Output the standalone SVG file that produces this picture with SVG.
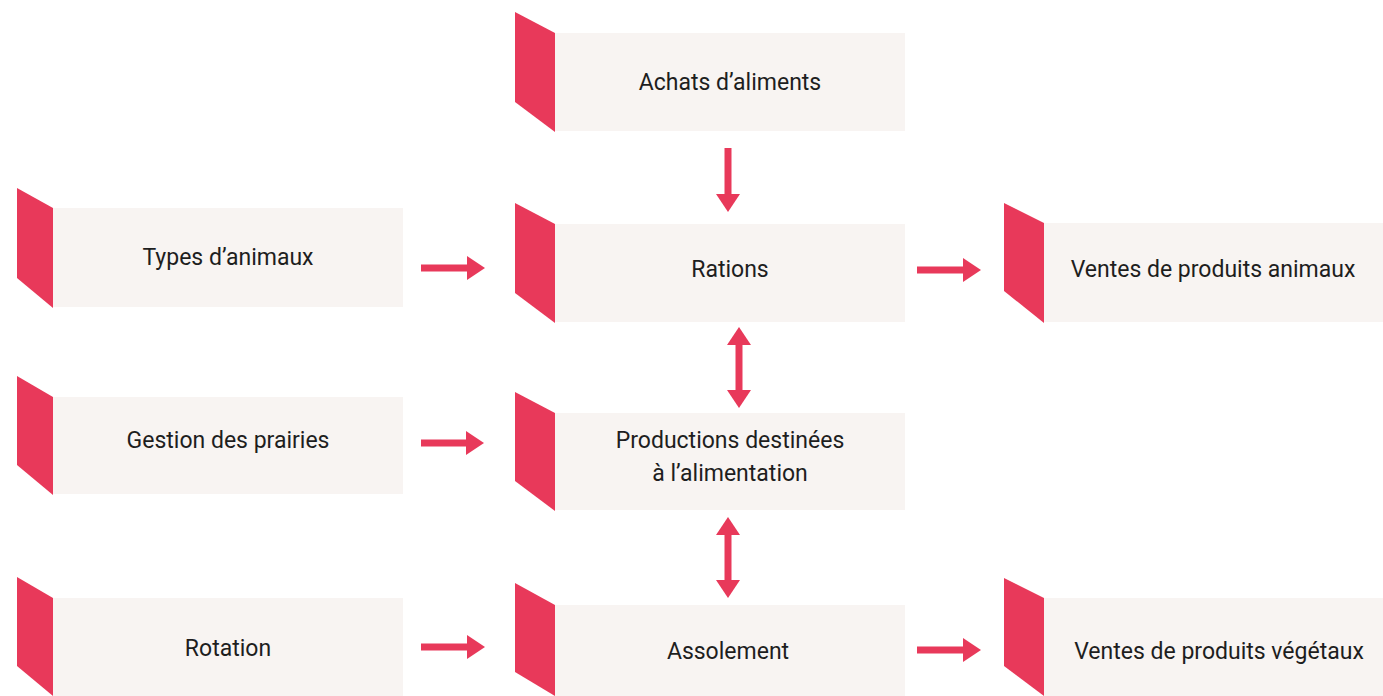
<svg xmlns="http://www.w3.org/2000/svg" width="1383" height="696" viewBox="0 0 1383 696">
<defs>
<style>
.box{fill:#F8F4F2}
.tab{fill:#E8395A}
.lbl{font-family:Roboto,"Liberation Sans",sans-serif;font-size:23px;fill:#1e1e1e;text-anchor:middle}
.conn{stroke:#E8395A;stroke-width:7;fill:none}
</style>
<marker id="ah" markerUnits="userSpaceOnUse" markerWidth="18" markerHeight="24" refX="0" refY="12" orient="auto-start-reverse" overflow="visible">
<path d="M0,0 L18,12 L0,24 Z" fill="#E8395A"/>
</marker>
</defs>
<rect width="1383" height="696" fill="#fff"/>

<g id="achats">
<rect class="box" x="555" y="33" width="350" height="98"/>
<polygon class="tab" points="515,12 555,33 555,132 515,102"/>
<text class="lbl" x="730" y="90">Achats d’aliments</text>
</g>
<g id="types">
<rect class="box" x="53" y="208" width="350" height="99"/>
<polygon class="tab" points="17,188 53,208 53,308 17,278"/>
<text class="lbl" x="228" y="265">Types d’animaux</text>
</g>
<g id="rations">
<rect class="box" x="555" y="224" width="350" height="98"/>
<polygon class="tab" points="515,203 555,224 555,323 515,293"/>
<text class="lbl" x="730" y="277">Rations</text>
</g>
<g id="ventes-animaux">
<rect class="box" x="1044" y="223" width="339" height="99"/>
<polygon class="tab" points="1004,203 1044,223 1044,323 1004,291"/>
<text class="lbl" x="1213" y="277">Ventes de produits animaux</text>
</g>
<g id="gestion">
<rect class="box" x="53" y="397" width="350" height="97"/>
<polygon class="tab" points="17,376 53,397 53,495 17,465"/>
<text class="lbl" x="228" y="448">Gestion des prairies</text>
</g>
<g id="productions">
<rect class="box" x="555" y="413" width="350" height="97"/>
<polygon class="tab" points="515,392 555,413 555,511 515,481"/>
<text class="lbl" x="730" y="448">Productions destinées</text>
<text class="lbl" x="730" y="481">à l’alimentation</text>
</g>
<g id="rotation">
<rect class="box" x="53" y="598" width="350" height="98"/>
<polygon class="tab" points="17,577 53,598 53,696 17,666"/>
<text class="lbl" x="228" y="656">Rotation</text>
</g>
<g id="assolement">
<rect class="box" x="555" y="605" width="350" height="91"/>
<polygon class="tab" points="515,583 555,605 555,696 515,672"/>
<text class="lbl" x="728" y="659">Assolement</text>
</g>
<g id="ventes-vegetaux">
<rect class="box" x="1044" y="598" width="339" height="98"/>
<polygon class="tab" points="1004,578 1044,598 1044,696 1004,666"/>
<text class="lbl" x="1219" y="659">Ventes de produits végétaux</text>
</g>

<g id="connectors">
<line class="conn" x1="728" y1="148" x2="728" y2="194" marker-end="url(#ah)"/>
<line class="conn" x1="421" y1="268" x2="467" y2="268" marker-end="url(#ah)"/>
<line class="conn" x1="917" y1="270" x2="963" y2="270" marker-end="url(#ah)"/>
<line class="conn" x1="739" y1="345" x2="739" y2="390" marker-start="url(#ah)" marker-end="url(#ah)"/>
<line class="conn" x1="421" y1="443" x2="466" y2="443" marker-end="url(#ah)"/>
<line class="conn" x1="728" y1="535" x2="728" y2="580" marker-start="url(#ah)" marker-end="url(#ah)"/>
<line class="conn" x1="421" y1="647" x2="467" y2="647" marker-end="url(#ah)"/>
<line class="conn" x1="917" y1="650" x2="963" y2="650" marker-end="url(#ah)"/>
</g>
</svg>
